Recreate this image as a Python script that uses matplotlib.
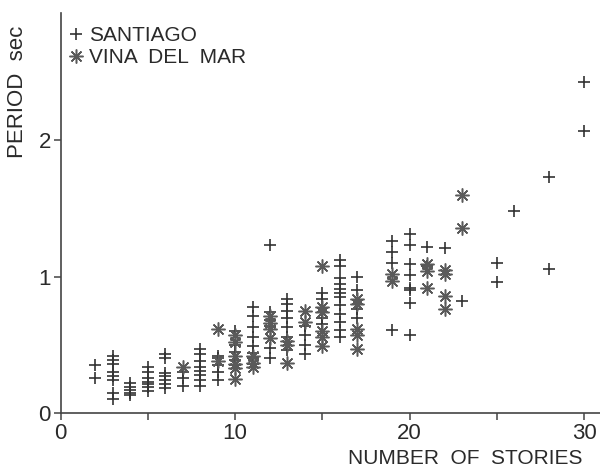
import numpy as np
import matplotlib
matplotlib.use("Agg")
import matplotlib.pyplot as plt

plt.rcParams['font.family'] = ['Liberation Sans Narrow', 'Liberation Sans', 'DejaVu Sans']

# Santiago buildings: number of stories and measured period (sec)
santiago_stories = ([2]*2 + [3]*8 + [4]*5 + [5]*7 + [6]*7 + [7]*3 + [8]*8 + [9]*5 + [10]*5
                    + [11]*8 + [12]*6 + [13]*7 + [14]*4 + [15]*4 + [16]*12 + [17]*4
                    + [19]*4 + [20]*8 + [21]*2 + [22] + [23] + [25]*2 + [26] + [28]*2 + [30]*2)
santiago_period = [0.35, 0.26,
                   0.42, 0.39, 0.36, 0.30, 0.27, 0.24, 0.15, 0.10,
                   0.22, 0.19, 0.17, 0.15, 0.13,
                   0.34, 0.30, 0.26, 0.23, 0.21, 0.19, 0.16,
                   0.43, 0.40, 0.29, 0.27, 0.24, 0.21, 0.18,
                   0.30, 0.26, 0.20,
                   0.47, 0.43, 0.38, 0.34, 0.31, 0.28, 0.24, 0.20,
                   0.42, 0.40, 0.35, 0.30, 0.24,
                   0.60, 0.50, 0.45, 0.39, 0.35,
                   0.78, 0.71, 0.63, 0.56, 0.49, 0.44, 0.40, 0.36,
                   1.23, 0.74, 0.68, 0.64, 0.48, 0.40,
                   0.84, 0.80, 0.75, 0.70, 0.63, 0.56, 0.46,
                   0.64, 0.57, 0.50, 0.43,
                   0.88, 0.84, 0.70, 0.65,
                   1.12, 1.08, 0.99, 0.95, 0.91, 0.88, 0.85, 0.79, 0.73, 0.67, 0.61, 0.56,
                   1.00, 0.90, 0.76, 0.70,
                   1.26, 1.18, 1.10, 0.61,
                   1.31, 1.23, 1.09, 1.01, 0.92, 0.90, 0.81, 0.57,
                   1.22, 1.08,
                   1.21,
                   0.82,
                   1.10, 0.96,
                   1.48,
                   1.73, 1.06,
                   2.43, 2.07]

# Vina del Mar buildings
vina_stories = ([7] + [9]*2 + [10]*6 + [11]*3 + [12]*4 + [13]*3 + [14]*2 + [15]*6
                + [17]*5 + [19]*2 + [21]*3 + [22]*4 + [23]*2)
vina_period = [0.34,
               0.62, 0.38,
               0.57, 0.52, 0.42, 0.36, 0.33, 0.25,
               0.42, 0.37, 0.34,
               0.71, 0.66, 0.62, 0.55,
               0.53, 0.50, 0.37,
               0.75, 0.67,
               1.08, 0.78, 0.74, 0.60, 0.56, 0.49,
               0.84, 0.80, 0.62, 0.57, 0.47,
               1.02, 0.97,
               1.09, 1.04, 0.92,
               1.05, 1.02, 0.86, 0.76,
               1.60, 1.36]

x_ticks = [0, 10, 20, 30]
y_ticks = [0, 1, 2]

txt = '#2a2a2a'
fig = plt.figure(figsize=(6, 4.71), dpi=100)
ax = fig.add_axes([60.5/600, 1 - 413/471, 1 - 60.5/600, 400/471])

ax.plot(santiago_stories, santiago_period, linestyle='none', marker='+',
        markersize=9, markeredgewidth=1.2, color='#333333', label='SANTIAGO')
ax.plot(vina_stories, vina_period, linestyle='none', marker=(8, 2, 0),
        markersize=10, markeredgewidth=1.1, color='#5a5a5a', label='VINA  DEL  MAR')

ax.set_xlim(0, 30.9)
ax.set_ylim(0, 2.935)
ax.set_xticks(np.arange(0, 31, 5))
ax.set_xticklabels([str(t) if t in x_ticks else '' for t in range(0, 31, 5)])
ax.set_yticks(y_ticks)
ax.set_yticklabels([str(t) for t in y_ticks])
ax.tick_params(direction='out', length=5, width=1.1, color='#444444',
               labelsize=16, labelcolor=txt, pad=2)
for side in ['top', 'right']:
    ax.spines[side].set_visible(False)
for side in ['left', 'bottom']:
    ax.spines[side].set_color('#444444')
    ax.spines[side].set_linewidth(1.2)

fig.text(18/600, 1 - 92/471, 'PERIOD  sec', rotation=90, ha='center', va='center',
         fontsize=16, color=txt)
fig.text(465/600, 1 - 459/471, 'NUMBER  OF  STORIES', ha='center', va='center',
         fontsize=15, color=txt)

ax.legend(loc='upper left', bbox_to_anchor=(70/600, 1 - 26/471), bbox_transform=fig.transFigure,
          frameon=False, fontsize=15, handlelength=0.6, handletextpad=0.3,
          labelspacing=0.15, borderpad=0, borderaxespad=0, labelcolor=txt)

fig.savefig('out.png', dpi=100)
